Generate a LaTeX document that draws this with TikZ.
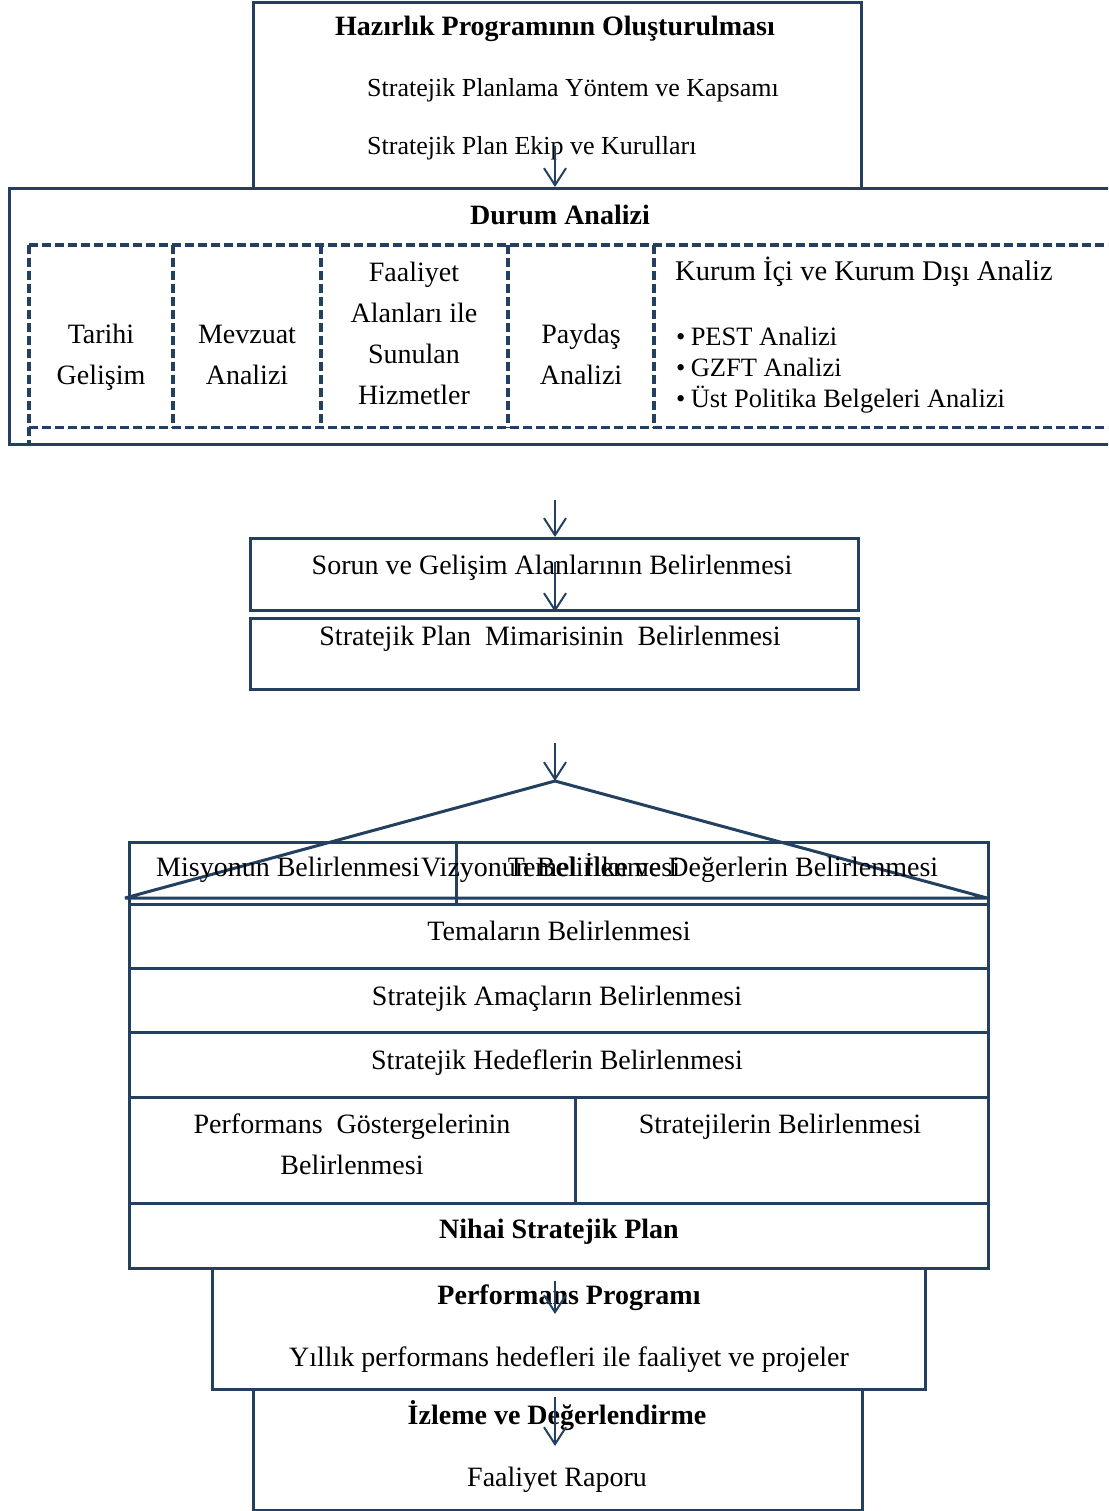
\documentclass[tikz,border=0pt]{standalone}
\usepackage{fontspec}
\setmainfont{Liberation Serif}
\usetikzlibrary{arrows.meta}
\definecolor{navy}{RGB}{36,64,97}
\begin{document}
\begin{tikzpicture}[x=1pt,y=-1pt,
  box/.style={draw=navy,line width=3pt,inner sep=0pt,anchor=north west},
  cell/.style={inner sep=0pt,anchor=north west},
  dsh/.style={draw=navy,line width=3.6pt,dash pattern=on 9pt off 4pt},
  arr/.style={draw=navy,line width=2pt,-{Straight Barb[length=17pt,width=22pt,line width=2pt]}},
  txt/.style={inner sep=0pt,text height=0.7em,text depth=0.25em,yshift=-6.5pt,font=\fontsize{28}{34}\selectfont},
  stxt/.style={txt,font=\fontsize{26}{32}\selectfont},
  ktxt/.style={txt,font=\fontsize{28.5}{31}\selectfont},
  kbtxt/.style={txt,font=\fontsize{26.5}{31}\selectfont},
  btxt/.style={txt,font=\fontsize{28}{34}\selectfont\bfseries}]
\useasboundingbox (0,0) rectangle (1108,1511);
\clip (0,0) rectangle (1108,1511);
\fill[white] (0,0) rectangle (1108,1511);

% ---------- Hazirlik box ----------
\node[box,minimum width=608pt,minimum height=186pt] (hz) at (252,1) {};
\node[btxt] (thz) at (555,27) {Hazırlık Programının Oluşturulması};
\node[stxt,anchor=west] (thz1) at (367,88) {Stratejik Planlama Yöntem ve Kapsamı};
\node[stxt,anchor=west] (thz2) at (367,146) {Stratejik Plan Ekip ve Kurulları};

% ---------- Durum Analizi box ----------
\node[box,minimum width=1117pt,minimum height=256pt] (da) at (8,187) {};
\node[btxt] (tda) at (560,216) {Durum Analizi};
\node[cell,minimum width=144pt,minimum height=182pt] (c1) at (29,245) {};
\node[cell,minimum width=148pt,minimum height=182pt] (c2) at (173,245) {};
\node[cell,minimum width=187pt,minimum height=182pt] (c3) at (321,245) {};
\node[cell,minimum width=146pt,minimum height=182pt] (c4) at (508,245) {};
\node[cell,minimum width=470pt,minimum height=182pt] (c5) at (654,245) {};
\draw[dsh] (c1.north west) -- (c5.north east);
\draw[dsh] (c1.south west) -- (c5.south east);
\draw[dsh] (c1.north west) -- (c1.west |- da.south);
\draw[dsh] (c2.north west) -- (c2.south west);
\draw[dsh] (c3.north west) -- (c3.south west);
\draw[dsh] (c4.north west) -- (c4.south west);
\draw[dsh] (c5.north west) -- (c5.south west);
\node[txt] (tc1a) at (101,335) {Tarihi};
\node[txt] (tc1b) at (101,376) {Gelişim};
\node[txt] (tc2a) at (247,335) {Mevzuat};
\node[txt] (tc2b) at (247,376) {Analizi};
\node[txt] (tc3a) at (414,273) {Faaliyet};
\node[txt] (tc3b) at (414,314) {Alanları ile};
\node[txt] (tc3c) at (414,355) {Sunulan};
\node[txt] (tc3d) at (414,396) {Hizmetler};
\node[txt] (tc4a) at (581,335) {Paydaş};
\node[txt] (tc4b) at (581,376) {Analizi};
\node[ktxt,anchor=west] (tc5) at (675,272) {Kurum İçi ve Kurum Dışı Analiz};
\node[kbtxt,anchor=west] (tc5a) at (676,337) {•\hspace{0.2em}PEST Analizi};
\node[kbtxt,anchor=west] (tc5b) at (676,368) {•\hspace{0.2em}GZFT Analizi};
\node[kbtxt,anchor=west] (tc5c) at (676,399) {•\hspace{0.2em}Üst Politika Belgeleri Analizi};

% ---------- Sorun / Mimari ----------
\node[box,minimum width=608pt,minimum height=72pt] (sg) at (249,537) {};
\node[box,minimum width=608pt,minimum height=71pt] (mm) at (249,617) {};
\node[txt] (tsg) at (552,566) {Sorun ve Gelişim Alanlarının Belirlenmesi};
\node[txt] (tmm) at (550,637) {Stratejik Plan\ \ Mimarisinin\ \ Belirlenmesi};

% ---------- Lower block ----------
\node[box,minimum width=713pt,minimum height=121pt] (pp) at (211,1267) {};
\node[box,minimum width=609pt,minimum height=121pt] (iz) at (252,1388) {};
\node[box,minimum width=859pt,minimum height=62pt] (r1) at (128,841) {};
\node[box,minimum width=327pt,minimum height=62pt] (r1a) at (128,841) {};
\node[box,minimum width=859pt,minimum height=64pt] (tem) at (128,903) {};
\node[box,minimum width=859pt,minimum height=64pt] (am) at (128,967) {};
\node[box,minimum width=859pt,minimum height=65pt] (hd) at (128,1031) {};
\node[box,minimum width=446pt,minimum height=106pt] (pg) at (128,1096) {};
\node[box,minimum width=413pt,minimum height=106pt] (st) at (574,1096) {};
\node[box,minimum width=859pt,minimum height=65pt] (nh) at (128,1202) {};

\coordinate (apex) at (555,781);
\coordinate (bl) at (125,898);
\coordinate (br) at (987,898);
\draw[navy,line width=3pt,line join=bevel] (apex) -- (bl) -- (br) -- cycle;

\node[txt,anchor=west] (tmis) at (156,868) {Misyonun Belirlenmesi};
\node[txt,anchor=west] (tviz) at (421,868) {Vizyonun Belirlenmesi};
\node[txt] (ttem) at (723,868) {Temel İlke ve Değerlerin Belirlenmesi};
\node[txt] (ttema) at (559,932) {Temaların Belirlenmesi};
\node[txt] (tam) at (557,997) {Stratejik Amaçların Belirlenmesi};
\node[txt] (thd) at (557,1061) {Stratejik Hedeflerin Belirlenmesi};
\node[txt] (tpg1) at (352,1125) {Performans\ \ Göstergelerinin};
\node[txt] (tpg2) at (352,1166) {Belirlenmesi};
\node[txt] (tst) at (780,1125) {Stratejilerin Belirlenmesi};
\node[btxt] (tnh) at (559,1230) {Nihai Stratejik Plan};
\node[btxt] (tpp) at (569,1296) {Performans Programı};
\node[txt] (tpp2) at (569,1358) {Yıllık performans hedefleri ile faaliyet ve projeler};
\node[btxt] (tiz) at (557,1416) {İzleme ve Değerlendirme};
\node[txt] (tiz2) at (557,1478) {Faaliyet Raporu};

% ---------- arrows ----------
\coordinate (a1) at (555,146);
\draw[arr] (a1) -- (a1 |- da.north);
\coordinate (a2) at (555,500);
\draw[arr] (a2) -- (a2 |- sg.north);
\coordinate (a3) at (555,562);
\draw[arr] (a3) -- (a3 |- sg.south);
\coordinate (a4) at (555,743);
\draw[arr] (a4) -- (apex);
\coordinate (a5) at (555,1281);
\coordinate (a5e) at (555,1314);
\draw[arr] (a5) -- (a5e);
\coordinate (a6) at (555,1397);
\coordinate (a6e) at (555,1446);
\draw[arr] (a6) -- (a6e);
\end{tikzpicture}
\end{document}
